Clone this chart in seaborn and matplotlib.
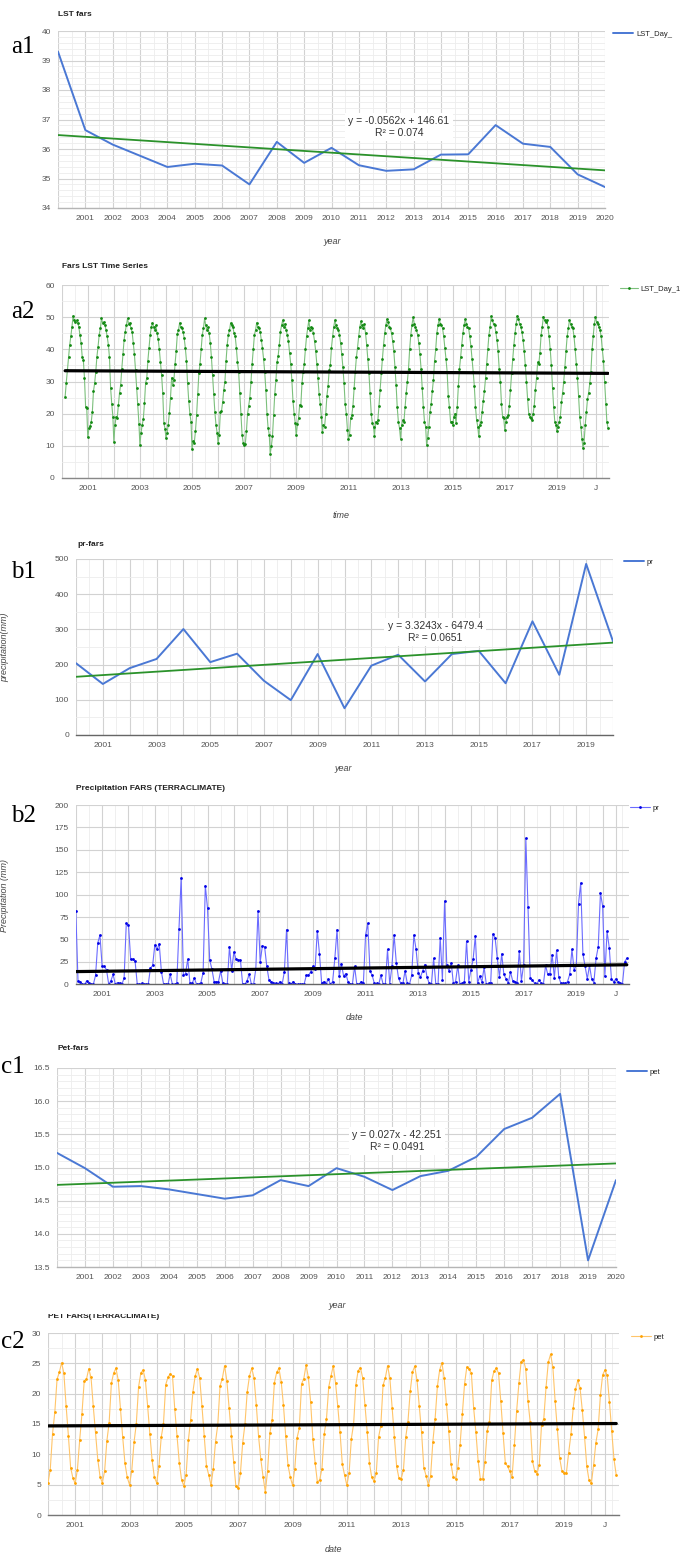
import numpy as np
import matplotlib
matplotlib.use("Agg")
import matplotlib.pyplot as plt
from matplotlib.ticker import FixedLocator
from matplotlib.patches import Rectangle
import seaborn as sns

sns.set_theme(style="white")
plt.rcParams["font.family"] = ["Liberation Sans", "DejaVu Sans"]

W, H = 692, 1555

# ---------------- annual series ----------------
years = list(range(2000, 2021))

lst_annual = [39.30, 36.64, 36.15, 35.77, 35.39, 35.50, 35.44, 34.80, 36.24, 35.53,
              36.04, 35.45, 35.26, 35.31, 35.81, 35.82, 36.81, 36.18, 36.07, 35.14, 34.71]
pr_annual = [204, 145, 190, 216, 301, 207, 231, 154, 99, 230,
             76, 197, 228, 152, 230, 239, 147, 323, 171, 486, 266]
pet_annual = [15.22, 14.99, 14.71, 14.72, 14.67, 14.60, 14.53, 14.58, 14.81, 14.72,
              14.99, 14.86, 14.66, 14.87, 14.95, 15.16, 15.58, 15.75, 16.11, 13.60, 14.81]

# ---------------- 16-day land surface temperature (deg C) ----------------
# the MODIS record starts on 18 Feb 2000, so 2000 has fewer composites
lst_2000 = [25.2, 29.6, 33.5, 37.7, 41.3, 44.0, 47.0, 50.4, 49.0, 48.6, 49.0, 48.3, 47.0, 44.5, 42.0, 37.7, 36.7, 31.0, 22.0, 21.7]
lst_2001 = [12.6, 15.4, 16.2, 17.3, 20.5, 27.0, 29.4, 33.0, 37.7, 40.8, 44.5, 46.5, 49.6, 48.2, 48.5, 47.6, 46.0, 44.0, 41.5, 37.5, 28.0, 23.0, 19.0]
lst_2002 = [11.2, 16.5, 19.0, 18.8, 22.8, 26.5, 29.0, 34.0, 38.5, 43.0, 45.5, 47.5, 49.6, 47.8, 48.3, 46.5, 45.5, 42.0, 38.5, 33.5, 28.0, 23.0, 16.8]
lst_2003 = [10.3, 14.0, 16.5, 18.3, 23.2, 29.6, 31.0, 36.5, 40.5, 44.5, 46.8, 48.3, 47.0, 46.0, 47.5, 45.0, 43.2, 40.0, 36.0, 32.0, 26.5, 17.0, 15.3]
lst_2004 = [12.4, 14.0, 16.5, 20.2, 25.0, 31.2, 29.0, 30.5, 35.5, 39.5, 44.8, 46.0, 48.2, 47.0, 46.5, 45.5, 43.5, 40.5, 36.5, 29.5, 24.0, 20.0, 17.5]
lst_2005 = [8.9, 11.5, 11.0, 14.5, 19.5, 26.0, 32.5, 35.5, 40.0, 44.5, 46.5, 49.6, 47.5, 46.0, 46.8, 45.0, 42.0, 37.5, 32.0, 26.0, 20.5, 16.5, 14.0]
lst_2006 = [10.9, 13.5, 20.5, 20.8, 23.5, 27.5, 30.0, 36.5, 41.5, 44.5, 46.0, 48.2, 47.5, 46.8, 45.0, 44.0, 40.5, 36.0, 33.0, 26.5, 20.0, 13.5, 11.0]
lst_2007 = [10.2, 10.5, 14.5, 20.0, 22.5, 25.0, 30.0, 35.5, 40.0, 44.5, 46.0, 48.3, 47.0, 46.5, 45.5, 43.0, 40.5, 37.0, 33.0, 27.5, 20.0, 15.5, 13.5]
lst_2008 = [7.6, 9.8, 13.0, 19.5, 26.0, 30.5, 36.0, 38.0, 41.5, 45.5, 47.5, 49.1, 47.0, 48.0, 46.0, 44.5, 42.5, 39.0, 35.5, 30.5, 24.0, 20.0, 17.0]
lst_2009 = [13.3, 16.7, 18.5, 22.8, 22.5, 29.5, 33.0, 35.5, 40.0, 44.0, 46.5, 49.0, 46.0, 47.0, 46.5, 45.0, 42.5, 39.5, 35.5, 31.0, 26.0, 23.0, 19.0]
lst_2010 = [14.2, 16.5, 16.0, 20.0, 25.5, 28.5, 33.5, 35.0, 40.5, 44.0, 47.0, 49.1, 47.5, 46.5, 46.0, 44.5, 42.0, 38.5, 34.5, 29.5, 23.0, 20.0, 15.0]
lst_2011 = [12.0, 13.5, 18.5, 19.5, 22.5, 28.0, 33.0, 37.5, 40.5, 44.0, 47.0, 48.7, 47.5, 46.5, 47.8, 45.0, 41.5, 37.0, 32.5, 26.5, 20.0, 17.0, 16.0]
lst_2012 = [13.0, 17.5, 17.0, 18.0, 22.5, 27.5, 32.5, 37.0, 41.5, 45.0, 47.5, 49.4, 48.5, 47.0, 46.5, 45.0, 42.5, 39.5, 34.5, 29.0, 22.0, 17.5, 15.5]
lst_2013 = [12.2, 16.5, 18.0, 17.5, 22.0, 26.5, 30.0, 34.0, 40.0, 44.5, 47.5, 49.9, 48.0, 47.0, 46.0, 44.5, 42.0, 38.5, 34.0, 28.0, 22.0, 17.5, 16.0]
lst_2014 = [10.4, 12.5, 16.0, 20.5, 23.0, 27.0, 30.5, 36.5, 40.0, 45.0, 47.5, 49.4, 48.0, 47.5, 46.5, 44.0, 40.5, 37.0, 33.0, 25.5, 22.0, 17.5, 17.5]
lst_2015 = [16.4, 19.0, 20.0, 17.0, 22.0, 28.5, 34.0, 37.5, 41.5, 45.0, 47.5, 49.3, 48.0, 47.0, 46.5, 44.0, 41.0, 37.0, 33.0, 28.5, 22.0, 18.0, 16.0]
lst_2016 = [13.0, 16.5, 17.5, 20.5, 24.0, 27.0, 31.0, 35.5, 40.0, 44.5, 47.0, 50.3, 49.0, 48.0, 47.5, 45.5, 43.0, 39.5, 34.0, 30.0, 23.0, 19.0, 18.5]
lst_2017 = [15.0, 17.5, 19.0, 19.5, 22.5, 27.5, 32.5, 37.0, 41.5, 45.0, 48.0, 50.4, 49.5, 48.0, 47.0, 45.5, 43.0, 39.5, 35.0, 30.0, 24.5, 20.0, 19.0]
lst_2018 = [18.5, 18.0, 20.0, 22.5, 27.5, 31.0, 36.0, 35.5, 39.0, 44.5, 47.0, 50.2, 49.0, 48.5, 49.0, 47.0, 44.0, 40.0, 35.0, 28.0, 22.0, 17.5, 16.5]
lst_2019 = [14.5, 16.0, 17.5, 19.0, 23.5, 26.5, 30.0, 34.5, 39.5, 44.0, 46.5, 49.0, 48.0, 47.0, 46.5, 44.0, 40.0, 35.5, 31.0, 25.5, 19.0, 16.0, 12.0]
lst_2020 = [9.4, 11.0, 16.5, 20.5, 24.5, 26.5, 29.5, 33.0, 40.0, 44.0, 48.0, 49.9, 48.5, 48.0, 47.0, 46.0, 44.0, 40.0, 36.5, 30.0, 23.0, 17.5, 15.6]

# ---------------- monthly precipitation (mm), Jan..Dec ----------------
pr_2000 = [82, 4, 3, 0, 0, 4, 1, 0, 0, 10, 46, 55]
pr_2001 = [20, 20, 16, 0, 4, 11, 0, 2, 1, 0, 7, 68]
pr_2002 = [66, 28, 28, 26, 0, 0, 1, 0, 0, 0, 18, 21]
pr_2003 = [44, 39, 45, 14, 0, 0, 0, 11, 0, 0, 1, 62]
pr_2004 = [119, 10, 12, 28, 1, 1, 7, 0, 0, 2, 13, 110]
pr_2005 = [85, 27, 17, 3, 3, 3, 15, 1, 0, 0, 42, 15]
pr_2006 = [36, 28, 27, 27, 0, 0, 4, 11, 0, 0, 17, 82]
pr_2007 = [25, 43, 42, 20, 5, 3, 2, 1, 0, 3, 0, 14]
pr_2008 = [61, 2, 0, 3, 0, 0, 0, 0, 0, 10, 10, 14]
pr_2009 = [20, 17, 60, 34, 1, 3, 0, 6, 0, 3, 29, 61]
pr_2010 = [9, 23, 9, 12, 3, 0, 0, 20, 0, 0, 3, 1]
pr_2011 = [55, 68, 15, 10, 1, 1, 0, 10, 0, 0, 39, 0]
pr_2012 = [20, 55, 24, 7, 1, 1, 15, 1, 0, 10, 55, 39]
pr_2013 = [13, 8, 15, 22, 8, 1, 0, 29, 0, 0, 52, 5]
pr_2014 = [93, 21, 15, 24, 1, 3, 21, 0, 1, 3, 48, 3]
pr_2015 = [16, 28, 54, 1, 9, 3, 19, 0, 1, 2, 56, 52]
pr_2016 = [29, 8, 34, 11, 6, 1, 14, 4, 3, 1, 37, 4]
pr_2017 = [22, 163, 86, 7, 5, 1, 0, 5, 1, 0, 21, 11]
pr_2018 = [12, 33, 7, 38, 8, 1, 1, 1, 3, 11, 39, 16]
pr_2019 = [21, 90, 113, 34, 20, 6, 21, 6, 2, 29, 42, 102]
pr_2020 = [87, 9, 59, 41, 6, 3, 6, 3, 1, 0, 25, 29]

# ---------------- monthly potential evapotranspiration, Jan..Dec ----------------
pet_2000 = [5.3, 7.5, 13.4, 16.9, 22.4, 23.5, 25.1, 23.4, 18.0, 13.1, 7.8, 6.1]
pet_2001 = [5.2, 7.5, 12.4, 16.7, 22.1, 22.4, 24.1, 22.7, 17.9, 13.6, 9.1, 6.3]
pet_2002 = [5.3, 7.2, 12.2, 15.2, 21.7, 23.4, 24.2, 22.3, 17.5, 12.8, 8.5, 6.2]
pet_2003 = [5.0, 7.3, 12.0, 15.0, 21.1, 23.4, 23.9, 22.3, 18.0, 13.3, 9.0, 6.2]
pet_2004 = [5.3, 8.0, 12.8, 15.0, 21.5, 22.7, 23.3, 22.9, 17.4, 13.1, 8.6, 5.8]
pet_2005 = [4.8, 6.6, 12.3, 15.7, 20.3, 22.9, 24.1, 22.6, 18.0, 13.1, 8.1, 6.6]
pet_2006 = [4.9, 7.6, 12.1, 14.9, 21.3, 22.5, 24.6, 22.1, 17.6, 13.0, 8.8, 4.7]
pet_2007 = [4.4, 6.9, 11.9, 15.0, 20.3, 22.9, 24.2, 22.6, 18.2, 13.0, 9.2, 6.3]
pet_2008 = [3.8, 7.3, 13.5, 15.7, 21.8, 23.5, 24.2, 22.0, 18.1, 13.0, 8.2, 6.3]
pet_2009 = [4.9, 7.6, 12.7, 14.3, 21.6, 22.5, 24.7, 22.7, 18.7, 12.5, 8.6, 5.4]
pet_2010 = [5.8, 7.6, 13.3, 15.8, 21.1, 22.9, 24.6, 21.8, 17.9, 13.6, 8.4, 6.6]
pet_2011 = [4.9, 6.9, 12.6, 15.0, 21.5, 23.8, 24.3, 22.6, 18.1, 13.7, 8.5, 6.2]
pet_2012 = [5.6, 6.9, 12.8, 14.7, 21.4, 22.6, 24.6, 22.6, 17.7, 12.8, 8.0, 6.1]
pet_2013 = [6.0, 7.4, 12.8, 15.4, 20.4, 23.6, 24.5, 22.2, 17.9, 13.7, 7.8, 6.5]
pet_2014 = [4.9, 6.4, 12.1, 15.9, 21.2, 23.9, 25.1, 22.6, 18.3, 13.9, 8.4, 6.3]
pet_2015 = [6.0, 7.8, 11.5, 16.6, 21.6, 24.4, 24.1, 23.4, 17.7, 13.7, 8.9, 5.9]
pet_2016 = [6.0, 8.7, 13.9, 15.4, 22.2, 23.7, 24.2, 23.4, 18.8, 13.5, 8.6, 8.0]
pet_2017 = [7.2, 6.3, 11.5, 17.1, 21.7, 25.3, 25.6, 24.1, 18.8, 15.3, 8.9, 7.2]
pet_2018 = [6.8, 8.3, 14.9, 15.9, 21.1, 25.2, 26.5, 24.4, 18.8, 14.2, 9.4, 7.3]
pet_2019 = [6.9, 7.0, 10.3, 13.3, 17.7, 20.7, 22.2, 21.0, 17.3, 12.9, 8.0, 5.7]
pet_2020 = [5.2, 8.2, 11.9, 14.1, 19.7, 23.1, 23.9, 23.0, 18.6, 13.8, 9.2, 6.6]

# ---------------- time axes for the sub-annual series ----------------
lst_by_year = [lst_2000, lst_2001, lst_2002, lst_2003, lst_2004, lst_2005, lst_2006,
               lst_2007, lst_2008, lst_2009, lst_2010, lst_2011, lst_2012, lst_2013,
               lst_2014, lst_2015, lst_2016, lst_2017, lst_2018, lst_2019, lst_2020]
pr_by_year = [pr_2000, pr_2001, pr_2002, pr_2003, pr_2004, pr_2005, pr_2006,
              pr_2007, pr_2008, pr_2009, pr_2010, pr_2011, pr_2012, pr_2013,
              pr_2014, pr_2015, pr_2016, pr_2017, pr_2018, pr_2019, pr_2020]
pet_by_year = [pet_2000, pet_2001, pet_2002, pet_2003, pet_2004, pet_2005, pet_2006,
               pet_2007, pet_2008, pet_2009, pet_2010, pet_2011, pet_2012, pet_2013,
               pet_2014, pet_2015, pet_2016, pet_2017, pet_2018, pet_2019, pet_2020]

lst_t, lst_v = [], []
for yr, vals in zip(years, lst_by_year):
    ndays = 366 if yr % 4 == 0 else 365
    first = 23 - len(vals)
    for i, v in enumerate(vals):
        lst_t.append(yr + 16 * (first + i) / ndays)
        lst_v.append(v)

month_t = [yr + m / 12 for yr in years for m in range(12)]
pr_v = [v for vals in pr_by_year for v in vals]
pet_v = [v for vals in pet_by_year for v in vals]

# ---------------- styling helpers ----------------
BLUE = "#4a78d4"
TREND_GREEN = "#2b922b"
TICK_C = "#555555"

fig = plt.figure(figsize=(W / 100, H / 100), dpi=100)
fig.patch.set_facecolor("white")


def make_axes(l, t, r, b):
    return fig.add_axes([l / W, 1 - b / H, (r - l) / W, (b - t) / H])


def put(x, y, s, **kw):
    return fig.text(x / W, 1 - y / H, s, **kw)


def style(ax, xlim, ylim, yticks, ylabels, yminor, xticks, xlabels, xminor, base):
    ax.set_xlim(xlim)
    ax.set_ylim(ylim)
    ax.set_yticks(yticks)
    ax.set_yticklabels(ylabels)
    ax.yaxis.set_minor_locator(FixedLocator(yminor))
    ax.set_xticks(xticks)
    ax.set_xticklabels(xlabels)
    ax.xaxis.set_minor_locator(FixedLocator(xminor))
    ax.set_axisbelow(True)
    ax.grid(True, which="major", color="#d2d2d2", lw=0.8)
    ax.grid(True, which="minor", color="#ededed", lw=0.6)
    for s in ("top", "right", "left"):
        ax.spines[s].set_visible(False)
    ax.spines["bottom"].set_color(base)
    ax.spines["bottom"].set_linewidth(1.0)
    ax.tick_params(which="both", length=0, labelsize=6, labelcolor=TICK_C)
    ax.tick_params(axis="x", pad=5)
    ax.tick_params(axis="y", pad=5)
    ax.set_xlabel("")
    ax.set_ylabel("")
    ax.set_facecolor("white")


def legend_at(ax, handle, label, x, y, hl=2.6):
    ax.legend([handle], [label], loc="center left", bbox_to_anchor=(x / W, 1 - y / H),
              bbox_transform=fig.transFigure, frameon=False, fontsize=5.5,
              handlelength=hl, handletextpad=0.4, borderpad=0, borderaxespad=0,
              labelcolor="#222222", numpoints=1)


def title(x, y, s):
    put(x, y, s, fontsize=6, fontweight="bold", color="#222222", ha="left", va="center")


def axis_title(x, y, s, **kw):
    put(x, y, s, fontsize=6.5, style="italic", color="#444444", ha="center", va="center", **kw)


def letter(x, y, s):
    put(x, y, s, fontsize=18, family="Liberation Serif", color="black", ha="left", va="center")


def equation(x, y, s):
    put(x, y, s, fontsize=7.5, color="#333333", ha="center", va="center",
        linespacing=1.15, bbox=dict(fc="white", ec="none", pad=2.5))


yr_major = list(range(2000, 2021))
half_years = [y + 0.5 for y in range(2000, 2020)]
every_label = [""] + [str(y) for y in range(2001, 2021)]
odd_label = [str(y) if y % 2 == 1 else "" for y in yr_major]
sub_major = list(range(2000, 2021)) + [2020.5]
sub_label = [str(y) if y % 2 == 1 else "" for y in range(2000, 2021)] + ["J"]
sub_minor = [y + 0.5 for y in range(2000, 2020)] + [2020.75]

# ---------------- a1: annual LST ----------------
ax = make_axes(58, 31, 605, 208)
sns.lineplot(x=years, y=lst_annual, color=BLUE, lw=1.4, ax=ax)
h = ax.lines[-1]
sns.regplot(x=years, y=lst_annual, scatter=False, ci=None, truncate=True,
            color=TREND_GREEN, line_kws={"lw": 1.3}, ax=ax)
style(ax, (2000, 2020), (34, 40), list(range(34, 41)), [str(v) for v in range(34, 41)],
      list(np.round(np.arange(34, 40.01, 0.2), 2)), yr_major, every_label, half_years, "#b5b5b5")
legend_at(ax, h, "LST_Day_", 613, 34)
title(58, 14, "LST fars")
axis_title(332, 242, "year")
equation(399, 127, "y = -0.0562x + 146.61\nR² = 0.074")
letter(11, 47, "a1")

# ---------------- a2: 16-day LST ----------------
ax = make_axes(61.7, 285, 609, 478)
sns.lineplot(x=lst_t, y=lst_v, color="#7cc07c", lw=0.8, marker="o", markersize=2.0,
             markerfacecolor="#138a13", markeredgecolor="#138a13", markeredgewidth=0, ax=ax)
h = ax.lines[-1]
sns.regplot(x=lst_t, y=lst_v, scatter=False, ci=None, truncate=True,
            color="black", line_kws={"lw": 2.3}, ax=ax)
style(ax, (2000.12, 2021.0), (0, 60), list(range(0, 61, 10)), [str(v) for v in range(0, 61, 10)],
      list(range(5, 60, 10)), sub_major, sub_label, sub_minor, "#888888")
legend_at(ax, h, "LST_Day_1", 620, 289, hl=2.3)
title(62, 266, "Fars LST Time Series")
axis_title(341, 515, "time")
letter(11, 312, "a2")

# ---------------- b1: annual precipitation ----------------
ax = make_axes(76, 559, 613, 735)
sns.lineplot(x=years, y=pr_annual, color=BLUE, lw=1.4, ax=ax)
h = ax.lines[-1]
sns.regplot(x=years, y=pr_annual, scatter=False, ci=None, truncate=True,
            color=TREND_GREEN, line_kws={"lw": 1.3}, ax=ax)
style(ax, (2000, 2020), (0, 500), list(range(0, 501, 100)), [str(v) for v in range(0, 501, 100)],
      list(range(50, 500, 100)), yr_major, odd_label, half_years, "#666666")
legend_at(ax, h, "pr", 624, 562)
title(77, 544, "pr-fars")
axis_title(343, 768, "year")
axis_title(5, 647, "precipitation(mm)", rotation=90)
equation(435, 632, "y = 3.3243x - 6479.4\nR² = 0.0651")
letter(11, 572, "b1")

# ---------------- b2: monthly precipitation ----------------
ax = make_axes(75.8, 805, 629, 984.3)
sns.lineplot(x=month_t, y=pr_v, color="#6b6bff", lw=0.8, marker="o", markersize=2.0,
             markerfacecolor="#0000e6", markeredgecolor="#0000e6", markeredgewidth=0, ax=ax)
h = ax.lines[-1]
sns.regplot(x=month_t, y=pr_v, scatter=False, ci=None, truncate=True,
            color="black", line_kws={"lw": 2.3}, ax=ax)
style(ax, (2000, 2021.0), (0, 200), list(range(0, 201, 25)), [str(v) for v in range(0, 201, 25)],
      [], sub_major, sub_label, sub_minor, "#666666")
legend_at(ax, h, "pr", 630, 808)
title(76, 788, "Precipitation FARS (TERRACLIMATE)")
axis_title(354, 1018, "date")
axis_title(5, 895, "Precipitation (mm)", rotation=90)
letter(11, 816, "b2")

# ---------------- c1: annual PET ----------------
ax = make_axes(57, 1068, 616, 1267)
sns.lineplot(x=years, y=pet_annual, color=BLUE, lw=1.4, ax=ax)
h = ax.lines[-1]
sns.regplot(x=years, y=pet_annual, scatter=False, ci=None, truncate=True,
            color=TREND_GREEN, line_kws={"lw": 1.3}, ax=ax)
c1_ticks = [13.5, 14.0, 14.5, 15.0, 15.5, 16.0, 16.5]
style(ax, (2000, 2020), (13.5, 16.5), c1_ticks, [f"{v:.1f}" for v in c1_ticks],
      list(np.round(np.arange(13.5, 16.51, 0.1), 2)), yr_major, every_label, half_years, "#b5b5b5")
legend_at(ax, h, "pet", 627, 1072)
title(57, 1048, "Pet-fars")
axis_title(337, 1305, "year")
equation(397, 1141, "y = 0.027x - 42.251\nR² = 0.0491")
letter(0.5, 1067, "c1")

# ---------------- c2: monthly PET ----------------
ax = make_axes(48, 1333, 618.5, 1515)
sns.lineplot(x=month_t, y=pet_v, color="#ffc56a", lw=0.8, marker="o", markersize=2.0,
             markerfacecolor="#ffa200", markeredgecolor="#ffa200", markeredgewidth=0, ax=ax)
h = ax.lines[-1]
sns.regplot(x=month_t, y=pet_v, scatter=False, ci=None, truncate=True,
            color="black", line_kws={"lw": 2.3}, ax=ax)
style(ax, (2000, 2021.0), (0, 30), list(range(0, 31, 5)), [str(v) for v in range(0, 31, 5)],
      [2.5, 7.5, 12.5, 17.5, 22.5, 27.5], sub_major, sub_label, sub_minor, "#777777")
legend_at(ax, h, "pet", 631, 1337)
title(48, 1317, "PET FARS(TERRACLIMATE)")
axis_title(333, 1549, "date")
letter(0.5, 1342, "c2")

# seam between the c1 and c2 panels
fig.patches.append(Rectangle((0, 1 - 1314.3 / H), 1, 4.5 / H, transform=fig.transFigure,
                             fc="white", ec="none", zorder=10))

fig.savefig("out.png", dpi=100, facecolor="white")
